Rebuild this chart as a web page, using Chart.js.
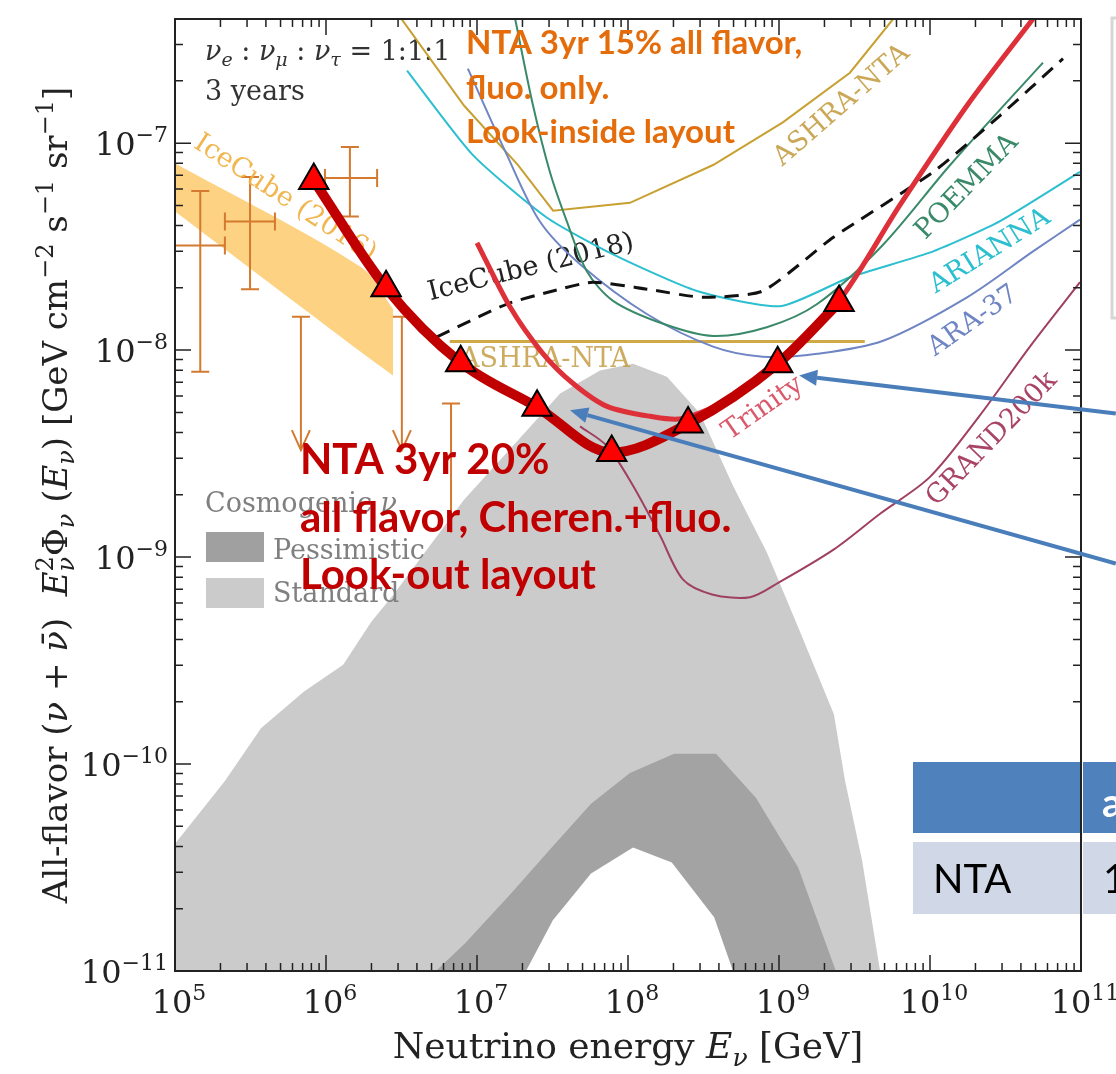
<!DOCTYPE html>
<html>
<head>
<meta charset="utf-8">
<script src="https://cdn.jsdelivr.net/npm/chart.js@4.4.1/dist/chart.umd.min.js"></script>
<style>
  html, body { margin: 0; padding: 0; background: #fff; }
  canvas { display: block; }
</style>
</head>
<body>
<canvas id="fluxChart" width="1116" height="1074"></canvas>
<script>
// ---- data (energy in GeV, flux in GeV cm^-2 s^-1 sr^-1) ----
const ntaEnergy = [8.3e5, 2.5e6, 7.8e6, 2.5e7, 7.8e7, 2.5e8, 9.8e8, 2.5e9];
const ntaFlux = [6.6e-8, 2.0e-8, 8.7e-9, 5.3e-9, 3.2e-9, 4.4e-9, 8.6e-9, 1.7e-8];

const trinityEnergy = [1.0e7, 1.66e7, 2.74e7, 4.33e7, 7.26e7, 1.4e8, 2.31e8, 5.5e8, 9.8e8, 2.46e9, 6.3e9, 1.76e10, 4.8e10];
const trinityFlux = [3.3e-8, 1.61e-8, 9.6e-9, 6.9e-9, 5.35e-9, 4.79e-9, 4.68e-9, 6.2e-9, 8.6e-9, 1.7e-8, 5.0e-8, 1.52e-7, 3.98e-7];

const ice2018Energy = [5.43e6, 1.58e7, 3.18e7, 5.86e7, 1.34e8, 3.14e8, 7.8e8, 2.28e9, 1.05e10, 2.91e10, 7.6e10];
const ice2018Flux = [1.16e-8, 1.67e-8, 1.93e-8, 2.13e-8, 1.97e-8, 1.80e-8, 1.93e-8, 3.5e-8, 7.26e-8, 1.36e-7, 2.56e-7];

const ashraEnergy = [3.0e6, 8.2e6, 1.87e7, 3.19e7, 1.03e8, 3.66e8, 1.06e9, 2.95e9, 5.7e9];
const ashraFlux = [4.2e-7, 1.52e-7, 7.84e-8, 4.72e-8, 5.15e-8, 7.84e-8, 1.26e-7, 2.19e-7, 3.98e-7];

const ashraLookOutEnergy = [6.6e6, 3.7e9];
const ashraLookOutFlux = [1.1e-8, 1.1e-8];

const ariannaEnergy = [3.44e6, 9.4e6, 2.91e7, 7.96e7, 2.86e8, 1.02e9, 2.95e9, 1.05e10, 2.91e10, 9.85e10];
const ariannaFlux = [2.24e-7, 8.75e-8, 4.36e-8, 2.9e-8, 1.93e-8, 1.63e-8, 2.25e-8, 3.0e-8, 4.2e-8, 7.26e-8];

const ara37Energy = [8.7e6, 1.58e7, 2.61e7, 4.81e7, 1.34e8, 3.66e8, 7.8e8, 1.79e9, 4.89e9, 1.76e10, 4.81e10, 9.85e10];
const ara37Flux = [2.29e-7, 8.75e-8, 4.18e-8, 2.6e-8, 1.49e-8, 1.04e-8, 9.3e-9, 9.6e-9, 1.11e-8, 1.8e-8, 3.0e-8, 4.27e-8];

const poemmaEnergy = [1.79e7, 2.35e7, 3.04e7, 3.94e7, 5.35e7, 7.96e7, 1.71e8, 3.66e8, 8.3e8, 1.79e9, 4.89e9, 1.36e10, 5.6e10];
const poemmaFlux = [3.98e-7, 1.52e-7, 7.26e-8, 4.18e-8, 2.4e-8, 1.73e-8, 1.34e-8, 1.17e-8, 1.29e-8, 1.67e-8, 3.23e-8, 7.84e-8, 2.45e-7];

const grandEnergy = [4.81e7, 7.26e7, 1.08e8, 1.63e8, 2.31e8, 3.6e8, 6.43e8, 1.0e9, 2.31e9, 4.67e9, 1.0e10, 2.14e10, 4.59e10, 9.85e10];
const grandFlux = [4.28e-9, 3.44e-9, 2.21e-9, 1.27e-9, 7.8e-10, 6.6e-10, 6.4e-10, 7.55e-10, 1.09e-9, 1.62e-9, 2.44e-9, 4.84e-9, 1.04e-8, 2.13e-8];

// IceCube (2016) band
const bandEnergy = [1.0e5, 1.73e6, 2.78e6];
const bandUpper = [8.0e-8, 2.5e-8, 1.58e-8];
const bandLower = [4.67e-8, 9.7e-9, 7.53e-9];

// IceCube data points with error bars
const icEnergy = [1.47e5, 3.14e5, 1.44e6];
const icEnergyLo = [1.0e5, 2.14e5, 9.84e5];
const icEnergyHi = [2.14e5, 4.59e5, 2.18e6];
const icFlux = [3.2e-8, 4.18e-8, 6.79e-8];
const icFluxLo = [7.87e-9, 1.97e-8, 4.42e-8];
const icFluxHi = [5.88e-8, 6.87e-8, 9.57e-8];
// IceCube upper limits
const ulEnergy = [6.82e5, 3.18e6, 6.73e6];
const ulFlux = [1.45e-8, 1.45e-8, 5.52e-9];
const ulFluxEnd = [3.29e-9, 3.29e-9, 1.31e-9];
const ulHasHead = [true, true, false];

// cosmogenic neutrino models
const stdEnergy = [1e5, 2.14e5, 3.71e5, 7.15e5, 1.3e6, 1.99e6, 2.78e6, 8.2e6, 1.87e7, 3.55e7, 6.53e7, 1.08e8, 1.81e8, 3.0e8, 4.96e8, 8.33e8, 1.38e9, 2.31e9, 2.74e9, 3.55e9, 4.67e9];
const stdFlux = [4.12e-11, 8.28e-11, 1.49e-10, 2.24e-10, 3.02e-10, 4.86e-10, 6.54e-10, 1.89e-9, 3.67e-9, 6.17e-9, 7.96e-9, 8.6e-9, 7.44e-9, 4.94e-9, 2.21e-9, 1.05e-9, 4.35e-10, 1.74e-10, 8.28e-11, 3.42e-11, 1e-11];
const pessUpperEnergy = [5.35e6, 8.34e6, 1.68e7, 3.0e7, 5.69e7, 1.03e8, 2.02e8, 3.83e8, 7.05e8, 1.34e9, 2.38e9];
const pessUpperFlux = [1e-11, 1.36e-11, 2.37e-11, 3.82e-11, 6.42e-11, 9.04e-11, 1.12e-10, 1.12e-10, 6.86e-11, 3.16e-11, 1e-11];
const pessLowerEnergy = [2.11e7, 3.18e7, 5.69e7, 1.08e8, 1.95e8, 3.72e8, 4.96e8];
const pessLowerFlux = [1e-11, 1.76e-11, 2.96e-11, 3.95e-11, 3.34e-11, 1.82e-11, 1e-11];

// axis ticks
const xTickExps = [5, 6, 7, 8, 9, 10, 11];
const yTickExps = [-11, -10, -9, -8, -7];
const minorSteps = [2, 3, 4, 5, 6, 7, 8, 9];

const SERIF = '"DejaVu Serif", "Liberation Serif", serif';
const SANS = 'Lato, "Open Sans", sans-serif';

function pts(xs, ys) {
  return xs.map((x, i) => ({ x: x, y: ys[i] }));
}

// ---- little rich-text helper for sub/superscripts ----
function runFont(run, size) {
  const s = run.pos ? Math.round(size * 0.7) : size;
  return (run.it ? 'italic ' : '') + s + 'px ' + SERIF;
}
function runWidth(c, run, size) {
  c.font = runFont(run, size);
  let w = c.measureText(run.t).width;
  if (run.under) {
    c.font = runFont({ pos: 'sub', it: run.underIt }, size);
    w = Math.max(w, c.measureText(run.under).width);
  }
  return w;
}
function drawRich(c, runs, x, y, size, align) {
  const widths = runs.map(r => runWidth(c, r, size));
  const total = widths.reduce((a, b) => a + b, 0);
  let cx = align === 'center' ? x - total / 2 : align === 'right' ? x - total : x;
  c.textAlign = 'left';
  c.textBaseline = 'alphabetic';
  runs.forEach((r, i) => {
    c.font = runFont(r, size);
    const dy = r.pos === 'sup' ? -0.42 * size : r.pos === 'sub' ? 0.22 * size : 0;
    c.fillText(r.t, cx, y + dy);
    if (r.under) {
      c.font = runFont({ pos: 'sub', it: r.underIt }, size);
      c.fillText(r.under, cx, y + 0.22 * size);
    }
    cx += widths[i];
  });
}

// labels that sit next to the curves (data coords)
const curveLabels = [
  { text: 'IceCube (2016)', e: 5.35e5, f: 5.4e-8, angle: 33, color: 'rgba(240,178,70,0.95)' },
  { text: 'IceCube (2018)', e: 2.28e7, f: 2.5e-8, angle: -14, color: '#222' },
  { text: 'ASHRA-NTA', e: 2.82e7, f: 8.97e-9, angle: 0, color: 'rgba(196,158,70,0.85)' },
  { text: 'ASHRA-NTA', e: 2.61e9, f: 1.52e-7, angle: -41, color: 'rgba(196,158,70,0.9)' },
  { text: 'POEMMA', e: 1.76e10, f: 6.15e-8, angle: -46, color: '#3a8a6a' },
  { text: 'ARIANNA', e: 2.5e10, f: 3.0e-8, angle: -32, color: '#2bbfcf' },
  { text: 'ARA-37', e: 1.93e10, f: 1.38e-8, angle: -35, color: '#6f85c4' },
  { text: 'GRAND200k', e: 2.58e10, f: 3.71e-9, angle: -46, color: '#a84466' },
  { text: 'Trinity', e: 7.83e8, f: 5.22e-9, angle: -35, color: 'rgba(212,60,80,0.85)' }
];

const arrows = [
  { fromE: 1.7e11, fromF: 4.94e-9, toE: 1.36e9, toF: 7.53e-9 },
  { fromE: 1.7e11, fromF: 9.3e-10, toE: 4.13e7, toF: 5.12e-9 }
];

const orangeLines = ['NTA 3yr 15% all flavor,', 'fluo. only.', 'Look-inside layout'];
const redLines = ['NTA 3yr 20%', 'all flavor, Cheren.+fluo.', 'Look-out layout'];

const underPlugin = {
  id: 'underLayer',
  beforeDatasetsDraw(chart) {
    const c = chart.ctx, xs = chart.scales.x, ys = chart.scales.y, a = chart.chartArea;
    c.save();
    c.beginPath();
    c.rect(a.left, a.top, a.right - a.left, a.bottom - a.top);
    c.clip();

    // IceCube error bars
    c.strokeStyle = '#d47a30';
    c.lineWidth = 2;
    const cap = 9;
    icEnergy.forEach((e, i) => {
      const x = xs.getPixelForValue(e), y = ys.getPixelForValue(icFlux[i]);
      const x0 = xs.getPixelForValue(icEnergyLo[i]), x1 = xs.getPixelForValue(icEnergyHi[i]);
      const y0 = ys.getPixelForValue(icFluxLo[i]), y1 = ys.getPixelForValue(icFluxHi[i]);
      c.beginPath();
      c.moveTo(x, y0); c.lineTo(x, y1);
      c.moveTo(x0, y); c.lineTo(x1, y);
      c.moveTo(x - cap, y0); c.lineTo(x + cap, y0);
      c.moveTo(x - cap, y1); c.lineTo(x + cap, y1);
      c.moveTo(x0, y - cap); c.lineTo(x0, y + cap);
      c.moveTo(x1, y - cap); c.lineTo(x1, y + cap);
      c.stroke();
    });
    ulEnergy.forEach((e, i) => {
      const x = xs.getPixelForValue(e);
      const y0 = ys.getPixelForValue(ulFlux[i]), y1 = ys.getPixelForValue(ulFluxEnd[i]);
      c.beginPath();
      c.moveTo(x - cap, y0); c.lineTo(x + cap, y0);
      c.moveTo(x, y0); c.lineTo(x, y1);
      if (ulHasHead[i]) {
        c.moveTo(x - 9, y1 - 20); c.lineTo(x, y1); c.lineTo(x + 9, y1 - 20);
      }
      c.stroke();
    });

    // curve labels
    c.font = '27px ' + SERIF;
    c.textAlign = 'center';
    c.textBaseline = 'middle';
    curveLabels.forEach(l => {
      c.save();
      c.translate(xs.getPixelForValue(l.e), ys.getPixelForValue(l.f));
      c.rotate(l.angle * Math.PI / 180);
      c.fillStyle = l.color;
      c.fillText(l.text, 0, 0);
      c.restore();
    });

    // cosmogenic legend
    c.fillStyle = '#a0a0a0';
    c.fillRect(206, 532, 58, 30);
    c.fillStyle = '#cbcbcb';
    c.fillRect(206, 578, 58, 30);
    c.fillStyle = '#808080';
    drawRich(c, [{ t: 'Cosmogenic ' }, { t: 'ν', it: true }], 205, 512, 27, 'left');
    drawRich(c, [{ t: 'Pessimistic' }], 273, 559, 27, 'left');
    drawRich(c, [{ t: 'Standard' }], 273, 602, 27, 'left');

    c.fillStyle = '#333';
    drawRich(c, [
      { t: 'ν', it: true }, { t: 'e', pos: 'sub', it: true }, { t: ' : ' },
      { t: 'ν', it: true }, { t: 'μ', pos: 'sub', it: true }, { t: ' : ' },
      { t: 'ν', it: true }, { t: 'τ', pos: 'sub', it: true }, { t: ' = 1:1:1' }
    ], 205, 60, 27, 'left');
    drawRich(c, [{ t: '3 years' }], 205, 100, 27, 'left');
    c.restore();
  },
  afterDatasetsDraw(chart) {
    const c = chart.ctx, xs = chart.scales.x, ys = chart.scales.y, a = chart.chartArea;
    c.save();
    c.strokeStyle = '#222';
    c.lineWidth = 2;
    c.strokeRect(a.left, a.top, a.right - a.left, a.bottom - a.top);
    c.lineWidth = 1.5;
    c.beginPath();
    for (let p = xTickExps[0]; p <= xTickExps[xTickExps.length - 1]; p++) {
      [1].concat(minorSteps).forEach(m => {
        const v = m * Math.pow(10, p);
        if (v < xs.min * 0.999 || v > xs.max * 1.001) return;
        const px = xs.getPixelForValue(v), len = m === 1 ? 16 : 8;
        c.moveTo(px, a.bottom); c.lineTo(px, a.bottom - len);
        c.moveTo(px, a.top); c.lineTo(px, a.top + len);
      });
    }
    for (let p = yTickExps[0]; p <= yTickExps[yTickExps.length - 1] + 1; p++) {
      [1].concat(minorSteps).forEach(m => {
        const v = m * Math.pow(10, p);
        if (v < ys.min * 0.999 || v > ys.max * 1.001) return;
        const py = ys.getPixelForValue(v), len = m === 1 ? 16 : 8;
        c.moveTo(a.left, py); c.lineTo(a.left + len, py);
        c.moveTo(a.right, py); c.lineTo(a.right - len, py);
      });
    }
    c.stroke();
    c.restore();
  },
  afterDraw(chart) {
    const c = chart.ctx, xs = chart.scales.x, ys = chart.scales.y, a = chart.chartArea;
    c.save();
    c.fillStyle = '#222';
    // tick labels
    xTickExps.forEach(p => {
      drawRich(c, [{ t: '10' }, { t: String(p), pos: 'sup' }], xs.getPixelForValue(Math.pow(10, p)) + 4, 1013, 32, 'center');
    });
    yTickExps.forEach(p => {
      drawRich(c, [{ t: '10' }, { t: String(p).replace('-', '\u2212'), pos: 'sup' }], 168, ys.getPixelForValue(Math.pow(10, p)) + 12, 32, 'right');
    });
    // axis titles
    drawRich(c, [{ t: 'Neutrino energy ' }, { t: 'E', it: true }, { t: 'ν', pos: 'sub', it: true }, { t: ' [GeV]' }],
      (a.left + a.right) / 2, 1058, 36, 'center');
    c.save();
    c.translate(67, (a.top + a.bottom) / 2);
    c.rotate(-Math.PI / 2);
    drawRich(c, [
      { t: 'All-flavor (' }, { t: 'ν', it: true }, { t: ' + ' }, { t: 'ν\u0304', it: true }, { t: ')  ' },
      { t: 'E', it: true }, { t: '2', pos: 'sup', under: 'ν', underIt: true }, { t: 'Φ' }, { t: 'ν', pos: 'sub', it: true },
      { t: ' (' }, { t: 'E', it: true }, { t: 'ν', pos: 'sub', it: true }, { t: ') [GeV cm' }, { t: '\u22122', pos: 'sup' },
      { t: ' s' }, { t: '\u22121', pos: 'sup' }, { t: ' sr' }, { t: '\u22121', pos: 'sup' }, { t: ']' }
    ], 0, 0, 34, 'center');
    c.restore();

    // highlighted notes
    c.textAlign = 'left';
    c.textBaseline = 'alphabetic';
    c.fillStyle = '#e46c0a';
    c.font = 'bold 33px ' + SANS;
    orangeLines.forEach((t, i) => c.fillText(t, 466, 54 + i * 44.5));
    c.fillStyle = '#c00000';
    c.font = 'bold 42px ' + SANS;
    redLines.forEach((t, i) => c.fillText(t, 300, 474 + i * 57.5));

    // pointer arrows
    c.strokeStyle = '#4a7ebb';
    c.fillStyle = '#4a7ebb';
    c.lineWidth = 4;
    arrows.forEach(ar => {
      const x0 = xs.getPixelForValue(ar.fromE), y0 = ys.getPixelForValue(ar.fromF);
      const x1 = xs.getPixelForValue(ar.toE), y1 = ys.getPixelForValue(ar.toF);
      const ang = Math.atan2(y1 - y0, x1 - x0), head = 18, half = 8;
      const bx = x1 - head * Math.cos(ang), by = y1 - head * Math.sin(ang);
      c.beginPath(); c.moveTo(x0, y0); c.lineTo(bx, by); c.stroke();
      c.beginPath();
      c.moveTo(x1, y1);
      c.lineTo(bx + half * Math.sin(ang), by - half * Math.cos(ang));
      c.lineTo(bx - half * Math.sin(ang), by + half * Math.cos(ang));
      c.closePath(); c.fill();
    });

    // slide table fragment and box at the right edge
    c.fillStyle = '#4f81bd';
    c.fillRect(913, 762, 167, 71);
    c.fillRect(1083, 762, 40, 71);
    c.fillStyle = '#d0d8e8';
    c.fillRect(913, 842, 167, 72);
    c.fillRect(1083, 842, 40, 72);
    c.fillStyle = '#fff';
    c.font = 'bold 40px ' + SANS;
    c.fillText('a', 1102, 817);
    c.fillStyle = '#000';
    c.font = '40px ' + SANS;
    c.fillText('NTA', 933, 893);
    c.fillText('1', 1103, 893);
    c.strokeStyle = '#d6d6d6';
    c.lineWidth = 3;
    c.strokeRect(1112, 18, 40, 300);
    c.restore();
  }
};

const noFill = 'rgba(0,0,0,0)';

new Chart(document.getElementById('fluxChart'), {
  type: 'line',
  data: {
    datasets: [
      { label: 'NTA 20%', data: pts(ntaEnergy, ntaFlux), borderColor: '#c00000', borderWidth: 10,
        cubicInterpolationMode: 'monotone', borderCapStyle: 'round', pointStyle: 'triangle', pointRadius: 17,
        pointBackgroundColor: '#ff0000', pointBorderColor: '#000', pointBorderWidth: 2, order: 0 },
      { label: 'Trinity', data: pts(trinityEnergy, trinityFlux), borderColor: '#dd3038', borderWidth: 5,
        tension: 0.3, order: 5 },
      { label: 'IceCube (2018)', data: pts(ice2018Energy, ice2018Flux), borderColor: '#111', borderWidth: 3,
        borderDash: [14, 9], tension: 0.2, order: 14 },
      { label: 'GRAND200k', data: pts(grandEnergy, grandFlux), borderColor: '#a04060', borderWidth: 2,
        tension: 0.3, order: 15 },
      { label: 'POEMMA', data: pts(poemmaEnergy, poemmaFlux), borderColor: '#3a8a6a', borderWidth: 2,
        tension: 0.3, order: 16 },
      { label: 'ARA-37', data: pts(ara37Energy, ara37Flux), borderColor: '#6f85c4', borderWidth: 2,
        tension: 0.3, order: 17 },
      { label: 'ARIANNA', data: pts(ariannaEnergy, ariannaFlux), borderColor: '#2bbfcf', borderWidth: 2,
        tension: 0.2, order: 18 },
      { label: 'ASHRA-NTA', data: pts(ashraEnergy, ashraFlux), borderColor: '#c8a032', borderWidth: 2,
        tension: 0, order: 19 },
      { label: 'ASHRA-NTA look-out', data: pts(ashraLookOutEnergy, ashraLookOutFlux), borderColor: '#cfa848',
        borderWidth: 3, order: 20 },
      { label: 'IceCube band', data: pts(bandEnergy, bandUpper), borderColor: noFill, borderWidth: 0,
        fill: '+1', backgroundColor: '#fdd283', tension: 0.3, order: 47 },
      { label: 'IceCube band low', data: pts(bandEnergy, bandLower), borderColor: noFill, borderWidth: 0,
        fill: false, tension: 0.3, order: 46 },
      { label: 'Pessimistic hole', data: pts(pessLowerEnergy, pessLowerFlux), borderColor: noFill, borderWidth: 0,
        fill: 'start', backgroundColor: '#ffffff', order: 48 },
      { label: 'Pessimistic', data: pts(pessUpperEnergy, pessUpperFlux), borderColor: noFill, borderWidth: 0,
        fill: 'start', backgroundColor: '#a3a3a3', order: 49 },
      { label: 'Standard', data: pts(stdEnergy, stdFlux), borderColor: noFill, borderWidth: 0,
        fill: 'start', backgroundColor: '#cbcbcb', order: 50 }
    ]
  },
  options: {
    responsive: false,
    animation: false,
    layout: { padding: { left: 175, right: 35, top: 13, bottom: 103 } },
    elements: { point: { radius: 0 } },
    scales: {
      x: { type: 'logarithmic', min: 1e5, max: 1e11, display: false },
      y: { type: 'logarithmic', min: 1e-11, max: 3.98e-7, display: false }
    },
    plugins: {
      legend: { display: false },
      tooltip: { enabled: false },
      filler: { drawTime: 'beforeDatasetsDraw' }
    }
  },
  plugins: [underPlugin]
});
</script>
</body>
</html>
